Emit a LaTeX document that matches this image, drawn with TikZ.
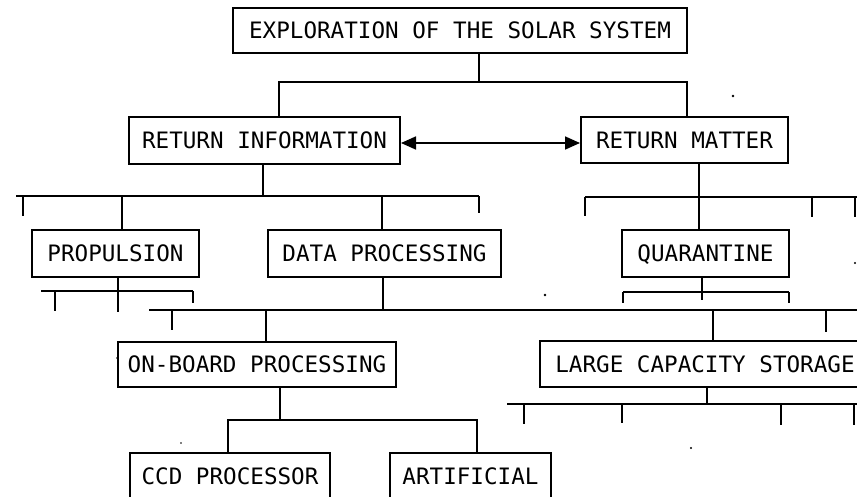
\documentclass[tikz,border=0pt]{standalone}
\usepackage{fontspec}
\setmainfont{DejaVu Sans Mono}
\usetikzlibrary{arrows.meta}
\begin{document}
\begin{tikzpicture}[x=1pt,y=-1pt,
  box/.style={draw, line width=2pt, inner sep=0pt, text height=16.5pt, text depth=0pt,
    font=\fontsize{22.6}{24}\selectfont},
  ln/.style={line width=1.7pt},
  tip/.style={line width=1.7pt, {Triangle[length=15pt,width=13pt]}-{Triangle[length=15pt,width=13pt]}},
  speck/.style={fill=black}]
\useasboundingbox (0,0) rectangle (857,496);
\clip (0,0) rectangle (857,496);

% boxes
\node[box, minimum width=454pt, minimum height=45pt] (top) at (460,30.5) {EXPLORATION OF THE SOLAR SYSTEM};
\node[box, minimum width=271pt, minimum height=47pt] (ri) at (264.5,140.5) {RETURN INFORMATION};
\node[box, minimum width=207pt, minimum height=46pt] (rm) at (684.5,140) {RETURN MATTER};
\node[box, minimum width=167pt, minimum height=47pt] (prop) at (115.5,253.5) {PROPULSION};
\node[box, minimum width=233pt, minimum height=47pt] (dp) at (384.5,253.5) {DATA PROCESSING};
\node[box, minimum width=167pt, minimum height=47pt] (quar) at (705.5,253.5) {QUARANTINE};
\node[box, minimum width=278pt, minimum height=45pt] (obp) at (257,364.5) {ON-BOARD PROCESSING};
\node[box, minimum width=330pt, minimum height=46pt] (lcs) at (705,364) {LARGE CAPACITY STORAGE};
\node[box, minimum width=200pt, minimum height=46pt] (ccd) at (230,476) {CCD PROCESSOR};
\node[box, minimum width=161pt, minimum height=46pt] (art) at (470.5,476) {ARTIFICIAL};

% top level
\coordinate (j0) at (479,82);
\draw[ln] (top.south -| j0) -- (j0);
\draw[ln] (ri.north -| 279,0) |- (j0) -| (rm.north -| 687,0);
\draw[tip] (ri.east |- 0,143) -- (rm.west |- 0,143);

% return information subtree
\coordinate (b1) at (263,196);
\coordinate (b1l) at (16,196);
\coordinate (b1r) at (479,196);
\coordinate (b1p) at (122,196);
\coordinate (b1d) at (382,196);
\draw[ln] (ri.south -| b1) -- (b1);
\draw[ln] (b1l) -- (b1r);
\draw[ln] (b1p) -- (prop.north -| b1p);
\draw[ln] (b1d) -- (dp.north -| b1d);
\draw[ln] (23,196) -- (23,216);
\draw[ln] (b1r) -- (479,213);

% return matter subtree
\coordinate (b2) at (699,197);
\draw[ln] (rm.south -| b2) -- (quar.north -| b2);
\draw[ln] (585,197) -- (870,197);
\draw[ln] (585,197) -- (585,216);
\draw[ln] (812,197) -- (812,217);
\draw[ln] (855,197) -- (855,217);

% propulsion subtree
\coordinate (b3) at (118,312);
\draw[ln] (prop.south -| b3) -- (b3);
\draw[ln] (41,291) -- (193,291);
\draw[ln] (55,291) -- (55,311);
\draw[ln] (193,291) -- (193,303);

% data processing subtree
\coordinate (b4) at (383,310);
\coordinate (b4o) at (266,310);
\coordinate (b4l) at (713,310);
\draw[ln] (dp.south -| b4) -- (b4);
\draw[ln] (149,310) -- (870,310);
\draw[ln] (b4o) -- (obp.north -| b4o);
\draw[ln] (b4l) -- (lcs.north -| b4l);
\draw[ln] (172,310) -- (172,330);
\draw[ln] (826,310) -- (826,332);

% quarantine subtree
\coordinate (b7) at (702,300);
\draw[ln] (quar.south -| b7) -- (b7);
\draw[ln] (623,292) -- (789,292);
\draw[ln] (623,292) -- (623,303);
\draw[ln] (789,292) -- (789,303);

% on-board processing subtree
\coordinate (b5) at (280,420);
\draw[ln] (obp.south -| b5) -- (b5);
\draw[ln] (ccd.north -| 228,0) |- (b5) -| (art.north -| 477,0);

% large capacity storage subtree
\coordinate (b6) at (707,404);
\draw[ln] (lcs.south -| b6) -- (b6);
\draw[ln] (507,404) -- (870,404);
\draw[ln] (524,404) -- (524,424);
\draw[ln] (622,404) -- (622,423);
\draw[ln] (781,404) -- (781,425);
\draw[ln] (854,404) -- (854,425);

% specks
\fill[speck] (733,96) circle (1.3pt);
\fill[speck] (545,295) circle (1.3pt);
\fill[speck] (855,263) circle (1.1pt);
\fill[speck] (691,448) circle (1.1pt);
\fill[speck] (117,358) circle (0.9pt);
\fill[speck] (181,443) circle (0.9pt);
\end{tikzpicture}
\end{document}
